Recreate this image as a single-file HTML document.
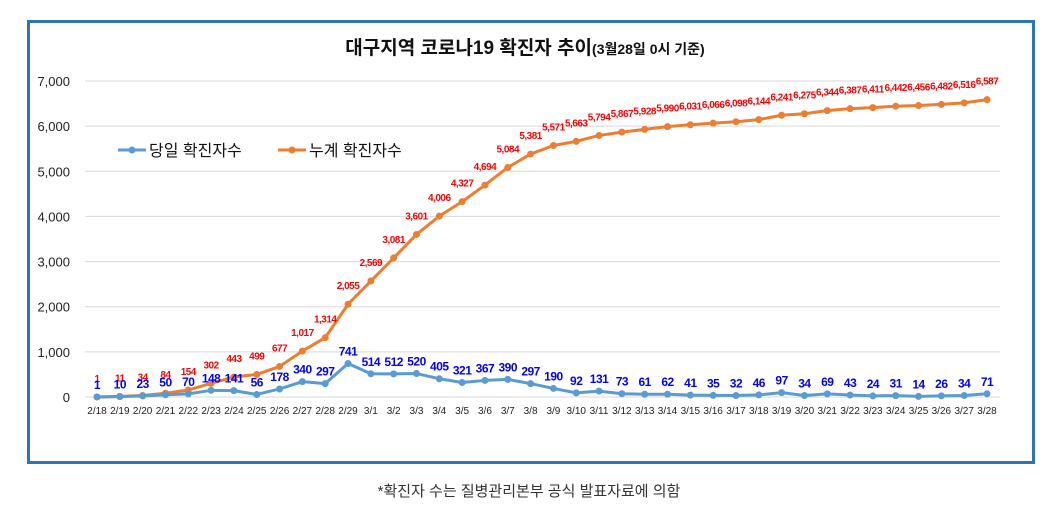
<!DOCTYPE html>
<html><head><meta charset="utf-8"><style>
body{margin:0;background:#fff;width:1058px;height:517px;overflow:hidden;font-family:"Liberation Sans","Noto Sans CJK KR",sans-serif}
#frame{position:absolute;left:27px;top:20px;width:1002px;height:438px;border:3px solid #2e75b6;background:#fff}
#foot{position:absolute;left:0;width:1058px;top:480px;text-align:center;font-size:15px;color:#333}
</style></head><body>
<div id="frame"></div>
<svg id="chart" width="1058" height="517" style="position:absolute;left:0;top:0"></svg>
<div id="foot">*확진자 수는 질병관리본부 공식 발표자료에 의함</div>
<script>
const categories=["2/18","2/19","2/20","2/21","2/22","2/23","2/24","2/25","2/26","2/27","2/28","2/29","3/1","3/2","3/3","3/4","3/5","3/6","3/7","3/8","3/9","3/10","3/11","3/12","3/13","3/14","3/15","3/16","3/17","3/18","3/19","3/20","3/21","3/22","3/23","3/24","3/25","3/26","3/27","3/28"];
const dailyValues=[1,10,23,50,70,148,141,56,178,340,297,741,514,512,520,405,321,367,390,297,190,92,131,73,61,62,41,35,32,46,97,34,69,43,24,31,14,26,34,71];
const cumulativeValues=[1,11,34,84,154,302,443,499,677,1017,1314,2055,2569,3081,3601,4006,4327,4694,5084,5381,5571,5663,5794,5867,5928,5990,6031,6066,6098,6144,6241,6275,6344,6387,6411,6442,6456,6482,6516,6587];
const yTicks=[0,1000,2000,3000,4000,5000,6000,7000];
const NS="http://www.w3.org/2000/svg";
const svg=document.getElementById('chart');
const x0=97,x1=987,yBase=397,yTop=81;
const xs=i=>x0+(x1-x0)*i/(categories.length-1);
const ys=v=>yBase-(yBase-yTop)*v/7000;
function mk(t,a,txt){const e=document.createElementNS(NS,t);for(const k in a)e.setAttribute(k,a[k]);if(txt!=null)e.textContent=txt;svg.appendChild(e);return e;}
const fmt=v=>v.toLocaleString('en-US');
yTicks.forEach(v=>{
 const g=mk('line',{x1:85,x2:1000,y1:ys(v),y2:ys(v),stroke:'#d9d9d9','stroke-width':1});
 
 
 const t=mk('text',{x:70,y:ys(v)+5,'text-anchor':'end','font-size':13,fill:'#222'},fmt(v));
 
 
});
categories.forEach((c,i)=>{
 const t=mk('text',{x:xs(i),y:414,'text-anchor':'middle','font-size':10,fill:'#222'},c);
 
 
});
function series(vals,color,name,lblColor,lblSize,lblOff){
 const p=mk('polyline',{points:vals.map((v,i)=>xs(i)+','+ys(v)).join(' '),fill:'none',stroke:color,'stroke-width':3,'stroke-linejoin':'round'});
 
 
 vals.forEach((v,i)=>{
  const c=mk('circle',{cx:xs(i),cy:ys(v),r:3.5,fill:color});
  
  
  const t=mk('text',{x:xs(i),y:ys(v)-lblOff,'text-anchor':'middle','font-size':lblSize,'font-weight':'bold',fill:lblColor,'letter-spacing':'-0.5'},fmt(v));
  
  
 });
}
series(cumulativeValues,'#ed7d31','cumulative','#ff0000',10,15);
series(dailyValues,'#5b9bd5','daily','#0000ff',12,8);
const title=mk('text',{x:525,y:54,'text-anchor':'middle','font-size':19,'font-weight':'bold',fill:'#111'});


title.innerHTML='대구지역 코로나19 확진자 추이<tspan font-size="14">(3월28일 0시 기준)</tspan>';
[[118,'#5b9bd5','당일 확진자수','legend-daily'],[278,'#ed7d31','누계 확진자수','legend-cumulative']].forEach(([lx,c,txt,n])=>{
 const l=mk('line',{x1:lx,x2:lx+28,y1:150,y2:150,stroke:c,'stroke-width':3});
 
 
 const d=mk('circle',{cx:lx+14,cy:150,r:3.5,fill:c});
 
 
 const t=mk('text',{x:lx+31,y:156,'font-size':16,fill:'#111'},txt);
 
 
});
</script>
</body></html>
